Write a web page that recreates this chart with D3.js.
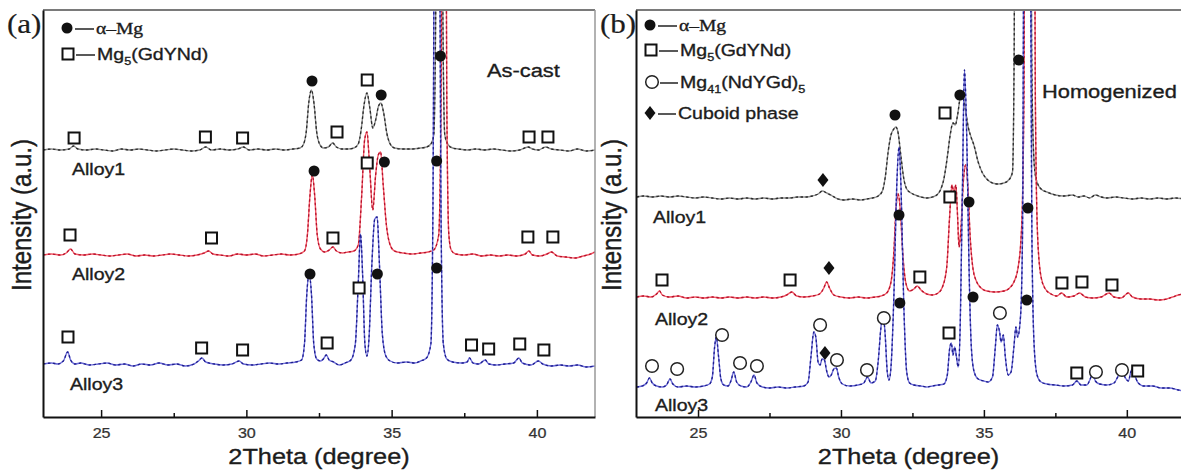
<!DOCTYPE html>
<html lang="en">
<head>
<meta charset="UTF-8">
<title>XRD patterns</title>
<script src="https://d3js.org/d3.v7.min.js"></script>
<style>
body { margin: 0; background: white; }
text { fill: #1c1c1c; stroke: #1c1c1c; stroke-width: 0.35px; }
.tick text { font: 14px "Liberation Sans", Arial, sans-serif; fill: #333; stroke: #333; stroke-width: 0.25px; }
</style>
</head>
<body>
<div id="chart"></div>
<script>
// ---- data: [2theta, intensity above own baseline] ----
var alloyNames = ["Alloy1", "Alloy2", "Alloy3"];
var majorTicks = [25, 30, 35, 40];
var minorTicks = [27.5, 32.5, 37.5];

// (a) as-cast
var aAlloy1 = [[23.0,0],[23.3,1],[23.6,0],[23.9,1],[24.05,4],[24.2,1],[24.5,0],[24.8,1],[25.1,0],[25.4,-1],[25.7,1],[26.0,0],[26.3,1],[26.6,0],[26.9,-1],[27.2,0],[27.5,1],[27.8,0],[28.1,-1],[28.4,0],[28.6,3],[28.8,0],[29.1,1],[29.4,0],[29.7,1],[29.9,3],[30.1,0],[30.4,1],[30.7,0],[31.0,1],[31.3,0],[31.6,1],[31.85,2],[31.97,6],[32.06,18],[32.15,48],[32.24,60],[32.33,46],[32.42,18],[32.52,6],[32.65,2],[32.82,3],[32.97,7],[33.1,3],[33.3,1],[33.5,1],[33.7,2],[33.85,6],[33.95,20],[34.05,45],[34.15,57],[34.25,42],[34.35,22],[34.45,30],[34.55,44],[34.63,47],[34.72,38],[34.84,16],[34.95,6],[35.1,2],[35.4,1],[35.7,1],[36.0,2],[36.2,3],[36.35,6],[36.45,15],[36.52,150],[36.58,600],[36.7,600],[36.76,150],[36.83,15],[36.95,5],[37.1,2],[37.3,1],[37.6,0],[37.9,1],[38.2,0],[38.5,1],[38.8,0],[39.1,-1],[39.4,0],[39.7,3],[39.85,1],[40.05,0],[40.3,3],[40.5,1],[40.8,0],[41.1,-1],[41.4,1],[41.7,-1],[42.0,0]];
var aAlloy2 = [[23.0,0],[23.3,1],[23.6,0],[23.8,2],[23.95,6],[24.1,1],[24.4,0],[24.7,1],[25.0,0],[25.3,-1],[25.6,0],[25.9,1],[26.2,-1],[26.5,0],[26.8,-1],[27.1,0],[27.4,1],[27.7,0],[28.0,-1],[28.3,0],[28.55,2],[28.7,4],[28.85,1],[29.1,0],[29.4,-1],[29.7,1],[30.0,0],[30.3,1],[30.6,-1],[30.9,0],[31.2,1],[31.5,0],[31.8,1],[32.0,4],[32.1,20],[32.19,60],[32.27,80],[32.35,60],[32.44,20],[32.55,6],[32.7,3],[32.85,5],[32.98,8],[33.1,4],[33.3,2],[33.5,3],[33.7,4],[33.85,10],[33.97,60],[34.07,115],[34.15,123],[34.24,90],[34.35,45],[34.45,80],[34.54,100],[34.62,103],[34.71,70],[34.82,30],[34.95,10],[35.1,4],[35.4,2],[35.7,1],[36.0,2],[36.25,3],[36.45,5],[36.62,20],[36.7,150],[36.76,600],[36.84,600],[36.9,150],[36.97,20],[37.05,5],[37.2,1],[37.5,0],[37.8,1],[38.1,-1],[38.4,0],[38.7,-1],[39.0,0],[39.3,-1],[39.6,1],[39.72,4],[39.85,0],[40.1,-1],[40.35,1],[40.5,3],[40.7,-1],[41.0,-2],[41.3,-3],[41.6,-1],[41.85,1],[42.0,3]];
var aAlloy3 = [[23.0,0],[23.3,1],[23.5,0],[23.7,3],[23.85,12],[23.95,4],[24.1,0],[24.3,1],[24.6,-1],[24.9,0],[25.2,1],[25.5,-1],[25.8,0],[26.1,-2],[26.4,0],[26.7,-1],[27.0,1],[27.3,-1],[27.6,0],[27.9,-2],[28.2,0],[28.35,3],[28.47,6],[28.6,2],[28.9,0],[29.2,-1],[29.5,0],[29.75,3],[29.9,0],[30.2,-1],[30.5,0],[30.8,1],[31.1,0],[31.4,1],[31.7,2],[31.9,4],[32.0,20],[32.08,70],[32.16,90],[32.24,70],[32.32,20],[32.42,5],[32.55,3],[32.65,5],[32.75,9],[32.85,4],[33.0,2],[33.2,-1],[33.4,1],[33.6,4],[33.75,20],[33.85,80],[33.93,130],[34.0,90],[34.08,20],[34.15,8],[34.22,25],[34.32,100],[34.42,145],[34.5,147],[34.58,100],[34.68,30],[34.8,8],[34.95,3],[35.2,1],[35.5,2],[35.8,1],[36.0,3],[36.2,6],[36.35,20],[36.42,150],[36.5,600],[36.62,600],[36.7,150],[36.78,20],[36.9,5],[37.1,2],[37.4,1],[37.6,2],[37.68,6],[37.8,1],[38.0,0],[38.22,4],[38.35,0],[38.6,-1],[38.9,0],[39.2,1],[39.38,6],[39.5,1],[39.8,-1],[40.05,3],[40.2,0],[40.5,-2],[40.8,-1],[41.1,-2],[41.4,-1],[41.7,-3],[42.0,-2]];

// (b) homogenized
var bAlloy1 = [[22.85,0],[23.1,1],[23.4,0],[23.7,1],[24.0,0],[24.3,1],[24.6,0],[24.9,-1],[25.2,0],[25.5,-1],[25.8,-2],[26.1,-1],[26.4,-2],[26.7,-1],[27.0,-2],[27.3,-1],[27.6,-2],[27.9,-1],[28.2,-1],[28.5,0],[28.8,0],[29.0,1],[29.2,3],[29.35,6],[29.5,4],[29.7,1],[29.9,-2],[30.1,-3],[30.4,-2],[30.7,-3],[30.9,-2],[31.1,-1],[31.3,1],[31.45,6],[31.55,20],[31.65,45],[31.75,62],[31.85,68],[31.92,70],[32.0,64],[32.1,40],[32.2,18],[32.3,8],[32.45,4],[32.6,2],[32.8,0],[33.0,-1],[33.2,0],[33.35,2],[33.48,7],[33.6,18],[33.72,40],[33.82,62],[33.92,74],[34.0,72],[34.08,82],[34.17,98],[34.26,100],[34.35,88],[34.45,70],[34.55,60],[34.65,52],[34.8,35],[34.95,24],[35.1,18],[35.3,14],[35.5,13],[35.7,14],[35.9,18],[36.0,25],[36.06,150],[36.1,600],[36.35,600],[36.62,600],[36.67,150],[36.73,50],[36.8,22],[36.9,12],[37.0,8],[37.2,5],[37.5,2],[37.8,1],[38.1,2],[38.3,0],[38.5,1],[38.7,-1],[38.9,2],[39.1,0],[39.3,-1],[39.6,0],[39.9,-1],[40.2,-2],[40.5,-1],[40.8,-2],[41.1,-1],[41.4,-2],[41.7,-1],[42.0,-2]];
var bAlloy2 = [[22.85,0],[23.1,1],[23.35,0],[23.55,3],[23.65,6],[23.75,2],[24.0,0],[24.3,1],[24.6,-1],[24.9,0],[25.2,-1],[25.5,0],[25.8,-1],[26.1,0],[26.4,-1],[26.7,0],[27.0,-1],[27.3,0],[27.6,-1],[27.9,0],[28.1,2],[28.28,5],[28.45,1],[28.7,0],[29.0,1],[29.25,3],[29.4,9],[29.5,15],[29.6,9],[29.75,2],[30.0,0],[30.3,-1],[30.6,0],[30.9,-1],[31.2,0],[31.4,1],[31.6,4],[31.75,15],[31.85,45],[31.93,90],[32.0,103],[32.08,85],[32.17,40],[32.27,14],[32.4,6],[32.55,8],[32.67,11],[32.8,7],[33.0,3],[33.2,2],[33.4,4],[33.55,10],[33.7,30],[33.8,80],[33.88,112],[33.95,105],[34.02,112],[34.08,80],[34.13,50],[34.2,70],[34.28,115],[34.36,132],[34.44,110],[34.52,60],[34.62,28],[34.75,15],[34.9,9],[35.1,6],[35.4,5],[35.7,6],[35.9,9],[36.05,15],[36.2,30],[36.32,70],[36.4,200],[36.45,600],[36.75,600],[36.8,200],[36.88,60],[37.0,20],[37.15,8],[37.35,3],[37.55,1],[37.72,4],[37.9,0],[38.15,1],[38.35,4],[38.55,0],[38.8,-1],[39.1,0],[39.38,4],[39.55,0],[39.8,-1],[40.05,4],[40.2,0],[40.5,-2],[40.8,-2],[41.1,-3],[41.4,-2],[41.6,0],[41.8,2],[42.0,3]];
var bAlloy3 = [[22.85,0],[23.05,1],[23.2,4],[23.3,9],[23.4,4],[23.55,1],[23.75,0],[23.9,2],[24.02,8],[24.12,3],[24.3,0],[24.6,1],[24.9,0],[25.2,1],[25.4,3],[25.5,10],[25.58,40],[25.64,50],[25.72,30],[25.8,8],[25.9,2],[26.05,1],[26.15,6],[26.25,15],[26.35,5],[26.5,1],[26.7,0],[26.85,5],[26.96,12],[27.06,4],[27.25,0],[27.5,-1],[27.8,0],[28.1,-1],[28.4,0],[28.7,1],[28.85,5],[28.95,30],[29.05,55],[29.12,50],[29.2,25],[29.27,22],[29.34,28],[29.42,27],[29.5,16],[29.58,10],[29.66,12],[29.75,18],[29.84,19],[29.92,10],[30.05,3],[30.3,1],[30.6,2],[30.8,4],[30.93,10],[31.05,4],[31.2,6],[31.3,25],[31.4,60],[31.47,72],[31.54,55],[31.62,15],[31.68,7],[31.75,20],[31.85,90],[31.95,200],[32.03,240],[32.1,200],[32.2,80],[32.3,15],[32.4,4],[32.55,2],[32.8,1],[33.0,0],[33.2,1],[33.4,2],[33.6,3],[33.72,12],[33.8,38],[33.86,44],[33.92,32],[33.98,40],[34.04,30],[34.1,20],[34.17,60],[34.25,200],[34.32,317],[34.4,250],[34.48,120],[34.56,40],[34.66,15],[34.8,8],[35.0,6],[35.15,5],[35.3,10],[35.4,40],[35.47,62],[35.55,55],[35.6,45],[35.68,52],[35.75,30],[35.85,12],[35.95,15],[36.05,40],[36.12,60],[36.18,50],[36.28,70],[36.35,150],[36.42,600],[36.6,600],[36.68,150],[36.76,40],[36.86,12],[37.0,5],[37.2,3],[37.5,2],[37.8,1],[38.1,2],[38.25,6],[38.4,2],[38.6,2],[38.72,8],[38.8,14],[38.9,6],[39.05,3],[39.3,2],[39.55,4],[39.72,12],[39.83,16],[39.95,9],[40.05,6],[40.18,18],[40.27,12],[40.4,4],[40.6,1],[40.9,1],[41.2,-1],[41.5,-1],[41.8,-3],[42.0,-4]];

// vertical stacking offsets (a.u.)
var offsetsA = [267, 162, 53];
var offsetsB = [220, 120, 30];

// phase markers: [phase, 2theta, height above the trace baseline]
var markA1 = [["sq",24.07,12],["sq",28.59,13],["sq",29.87,12],["dot",32.26,69],["sq",33.12,18],["sq",34.16,70],["dot",34.64,55],["dot",36.68,94],["sq",39.73,13],["sq",40.38,13]];
var markA2 = [["sq",23.93,20],["sq",28.80,17],["dot",32.33,84],["sq",32.98,17],["sq",34.16,92],["dot",34.75,93],["dot",36.55,94],["sq",39.69,18],["sq",40.55,18]];
var markA3 = [["sq",23.86,27],["sq",28.46,16],["sq",29.87,14],["dot",32.19,90],["sq",32.78,21],["sq",33.88,76],["dot",34.51,90],["dot",36.55,96],["sq",37.75,19],["sq",38.34,15],["sq",39.41,20],["sq",40.24,14]];
var markB1 = [["dia",29.37,17],["dot",31.89,82],["sq",33.64,84],["dot",34.16,102],["dot",36.22,137]];
var markB2 = [["sq",23.74,17],["sq",28.22,17],["dia",29.58,29],["dot",32.03,82],["sq",32.76,20],["sq",33.81,100],["dot",34.48,95],["dot",36.54,89],["sq",37.73,14],["sq",38.43,15],["sq",39.48,12]];
var markB3 = [["circ",23.39,21],["circ",24.27,18],["circ",25.84,52],["circ",26.47,24],["circ",27.06,21],["circ",29.27,62],["dia",29.44,34],["circ",29.86,27],["circ",30.91,17],["circ",31.5,69],["dot",32.06,84],["sq",33.78,54],["dot",34.62,90],["circ",35.56,74],["dot",36.5,87],["sq",38.25,14],["circ",38.92,15],["circ",39.83,17],["sq",40.38,16]];

// ---- drawing ----
var SANS = '"Liberation Sans", Arial, sans-serif';
var SERIF = '"Liberation Serif", "Times New Roman", serif';
var SX = 1.15; // the source picture is stretched horizontally
var traceColors = [["#8c8c8c", "#2a2a2a"], ["#f25866", "#b5122c"], ["#6c6cd8", "#1e1e8e"]];

var svg = d3.select("#chart").append("svg")
  .attr("width", 1181)
  .attr("height", 473)
  .style("background", "white");

function txt(g, x, y, size, family) {
  return g.append("text")
    .attr("transform", "translate(" + x + "," + y + ") scale(" + SX + ",1)")
    .style("font-family", family || SANS)
    .style("font-size", size + "px");
}

function drawMarker(g, kind, cx, cy) {
  if (kind == "dot") {
    g.append("circle").attr("cx", cx).attr("cy", cy).attr("r", 5.5).attr("fill", "#111");
  } else if (kind == "sq") {
    g.append("rect").attr("x", cx - 5.5).attr("y", cy - 5.5).attr("width", 11).attr("height", 11)
      .attr("fill", "white").attr("stroke", "#111").attr("stroke-width", 2);
  } else if (kind == "circ") {
    g.append("circle").attr("cx", cx).attr("cy", cy).attr("r", 6.3)
      .attr("fill", "white").attr("stroke", "#222").attr("stroke-width", 1.5);
  } else {
    g.append("path").attr("d", "M" + cx + "," + (cy - 7) + "L" + (cx + 5.5) + "," + cy + "L" + cx + "," + (cy + 7) + "L" + (cx - 5.5) + "," + cy + "Z")
      .attr("fill", "#111");
  }
}

function drawPanel(p) {
  var g = svg.append("g");
  var x = d3.scaleLinear().domain(p.domain).range([p.x0, p.x1]);
  var y = d3.scaleLinear().domain([0, 407]).range([417, 10]);

  g.append("clipPath").attr("id", "clip" + p.id)
    .append("rect").attr("x", p.x0).attr("y", 10).attr("width", p.x1 - p.x0).attr("height", 407);

  var line = d3.line()
    .x(function(d) { return x(d[0]); })
    .y(function(d) { return y(d[1]); })
    .curve(d3.curveMonotoneX);

  var plot = g.append("g").attr("clip-path", "url(#clip" + p.id + ")");
  p.traces.forEach(function(t, i) {
    var pts = t.map(function(d) { return [d[0], d[1] + p.offsets[i]]; });
    plot.append("path").datum(pts).attr("d", line)
      .attr("fill", "none").attr("stroke", traceColors[i][0]).attr("stroke-width", 1.4);
    plot.append("path").datum(pts).attr("d", line)
      .attr("fill", "none").attr("stroke", traceColors[i][1]).attr("stroke-width", 1.3)
      .attr("stroke-dasharray", "2.5,2.5");
  });

  // frame
  g.append("line").attr("x1", p.x0).attr("x2", Math.min(p.x1, 1181)).attr("y1", 10).attr("y2", 10)
    .attr("stroke", "#7a7a7a").attr("stroke-width", 2);
  if (p.x1 < 1181) {
    g.append("line").attr("x1", p.x1).attr("x2", p.x1).attr("y1", 10).attr("y2", 417)
      .attr("stroke", "#999").attr("stroke-width", 1.5);
  }

  var xAxis = g.append("g").attr("transform", "translate(0,417)")
    .call(d3.axisBottom(x).tickValues(majorTicks).tickSizeInner(-7).tickSizeOuter(0).tickPadding(11));
  xAxis.select(".domain").attr("stroke", "#111").attr("stroke-width", 2);
  xAxis.selectAll(".tick line").attr("stroke", "#111").attr("stroke-width", 1.5);
  xAxis.selectAll(".tick text").attr("transform", "scale(" + SX + ",1)");

  var minor = g.append("g").attr("transform", "translate(0,417)")
    .call(d3.axisBottom(x).tickValues(minorTicks).tickSize(-4).tickFormat(""));
  minor.select(".domain").remove();
  minor.selectAll(".tick line").attr("stroke", "#111").attr("stroke-width", 1.5);

  var yAxis = g.append("g").attr("transform", "translate(" + p.x0 + ",0)")
    .call(d3.axisLeft(y).tickValues([]).tickSizeOuter(0));
  yAxis.select(".domain").attr("stroke", "#111").attr("stroke-width", 2);

  // phase markers
  var mg = g.append("g");
  p.markers.forEach(function(list, i) {
    list.forEach(function(m) {
      drawMarker(mg, m[0], x(m[1]), y(m[2] + p.offsets[i]));
    });
  });

  // titles
  txt(g, (p.x0 + Math.min(p.x1, 1181)) / 2 + p.titleShift, 464, 22).attr("text-anchor", "middle").text("2Theta (degree)");
  g.append("text")
    .attr("transform", "translate(" + p.yTitleX + ",215) scale(" + SX + ",1) rotate(-90)")
    .attr("text-anchor", "middle")
    .style("font-family", SANS).style("font-size", "24px")
    .text("Intensity (a.u.)");
  txt(g, p.x0 - 36, 33, 27, SERIF).style("stroke-width", "0.2px").text(p.label);

  p.alloyPos.forEach(function(a, i) {
    txt(g, a[0], a[1], 17).text(alloyNames[i]);
  });
  txt(g, p.note[0], p.note[1], 19).text(p.note[2]);
  return x;
}

drawPanel({
  id: "a", domain: [23, 42], x0: 43, x1: 595, label: "(a)",
  traces: [aAlloy1, aAlloy2, aAlloy3], offsets: offsetsA,
  markers: [markA1, markA2, markA3],
  alloyPos: [[72, 175], [72, 280], [70, 390]],
  note: [487, 77, "As-cast"], titleShift: 0, yTitleX: 31
});
drawPanel({
  id: "b", domain: [22.83, 42], x0: 636, x1: 1184, label: "(b)",
  traces: [bAlloy1, bAlloy2, bAlloy3], offsets: offsetsB,
  markers: [markB1, markB2, markB3],
  alloyPos: [[653, 223], [655, 325], [655, 411]],
  note: [1042, 98, "Homogenized"], titleShift: 0, yTitleX: 621
});

// legends
function legendRow(x, y, kind, lineEnd, parts, textX, family) {
  drawMarker(svg, kind, x, y);
  svg.append("line").attr("x1", x + 8).attr("x2", lineEnd).attr("y1", y + 1).attr("y2", y + 1)
    .attr("stroke", "#222").attr("stroke-width", 1.5);
  var t = txt(svg, textX, y + 6, 17, family);
  parts.forEach(function(pt) {
    var s = t.append("tspan").text(pt[0]);
    if (pt[1] == "sub") s.style("font-size", "11px").attr("dy", 5);
    if (pt[1] == "back") s.attr("dy", -5);
  });
}

legendRow(67, 28, "dot", 94, [["α–Mg"]], 96, SERIF);
legendRow(68, 54, "sq", 95, [["Mg"], ["5", "sub"], ["(GdYNd)", "back"]], 97);

legendRow(650, 25, "dot", 677, [["α–Mg"]], 679, SERIF);
legendRow(651, 50, "sq", 678, [["Mg"], ["5", "sub"], ["(GdYNd)", "back"]], 680);
legendRow(652, 82, "circ", 678, [["Mg"], ["41", "sub"], ["(NdYGd)", "back"], ["5", "sub"]], 680);
legendRow(650, 113, "dia", 676, [["Cuboid phase"]], 678);
</script>
</body>
</html>
